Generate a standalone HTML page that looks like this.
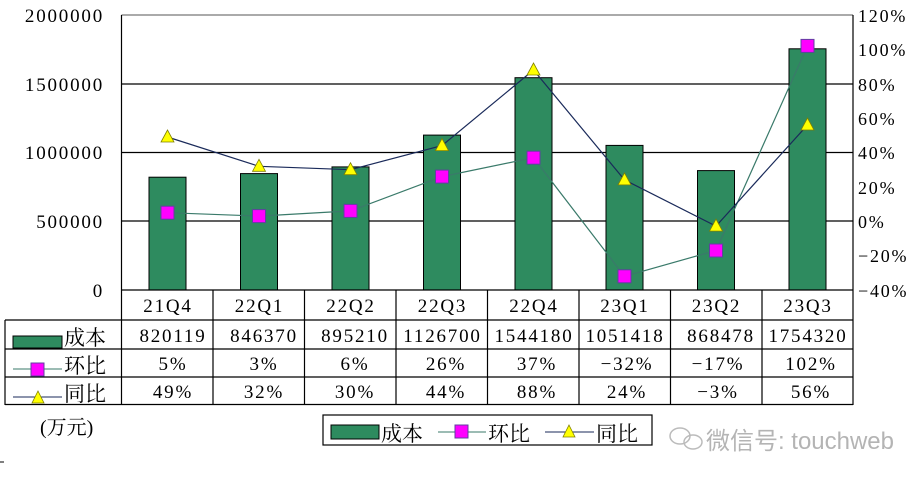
<!DOCTYPE html>
<html><head><meta charset="utf-8"><style>
html,body{margin:0;padding:0;background:#fff;}
svg{display:block;}
text{font-family:"Liberation Serif","Noto Serif CJK SC","Noto Sans CJK SC",serif;fill:#000;}
.n{letter-spacing:1.8px;}
</style></head><body>
<svg width="923" height="480" viewBox="0 0 923 480" xmlns="http://www.w3.org/2000/svg">
<rect width="923" height="480" fill="#fff"/>
<g stroke="#000" stroke-width="1.2">
<line x1="121.5" y1="15" x2="853" y2="15" stroke="#777"/>
<line x1="121.5" y1="84" x2="853" y2="84"/>
<line x1="121.5" y1="152.5" x2="853" y2="152.5"/>
<line x1="121.5" y1="221" x2="853" y2="221"/>
<line x1="121.5" y1="15" x2="121.5" y2="405"/>
<line x1="853" y1="15" x2="853" y2="405"/>
</g>
<g fill="#2e8b5f" stroke="#000" stroke-width="1">
<rect x="149" y="177.2" width="37" height="112.8"/>
<rect x="240.5" y="173.6" width="37" height="116.4"/>
<rect x="332" y="166.9" width="37" height="123.1"/>
<rect x="423.5" y="135.1" width="37" height="154.9"/>
<rect x="515" y="77.7" width="37" height="212.3"/>
<rect x="606" y="145.4" width="37" height="144.6"/>
<rect x="697.5" y="170.6" width="37" height="119.4"/>
<rect x="789" y="48.8" width="37" height="241.2"/>
</g>
<polyline fill="none" stroke="#3a7a6a" stroke-width="1.2" points="167.5,212.7 259,216.1 350.5,210.9 442,176.6 533.5,157.7 624.5,276.3 716,250.5 807.5,45.9"/>
<polyline fill="none" stroke="#1a2a5a" stroke-width="1.2" points="167.5,137 259,166.3 350.5,169.7 442,145.6 533.5,70 624.5,179.9 716,226.1 807.5,125"/>
<g fill="#ff00ff" stroke="#6040a0" stroke-width="1">
<rect x="161" y="206.2" width="13" height="13"/><rect x="252.5" y="209.6" width="13" height="13"/>
<rect x="344" y="204.4" width="13" height="13"/><rect x="435.5" y="170.1" width="13" height="13"/>
<rect x="527" y="151.2" width="13" height="13"/><rect x="618" y="269.8" width="13" height="13"/>
<rect x="709.5" y="244" width="13" height="13"/><rect x="801" y="39.4" width="13" height="13"/>
</g>
<g fill="#ffff00" stroke="#808000" stroke-width="0.8">
<polygon points="167.5,130 174,142 161,142"/><polygon points="259,159.3 265.5,171.3 252.5,171.3"/>
<polygon points="350.5,162.7 357,174.7 344,174.7"/><polygon points="442,138.6 448.5,150.6 435.5,150.6"/>
<polygon points="533.5,63 540,75 527,75"/><polygon points="624.5,172.9 631,184.9 618,184.9"/>
<polygon points="716,219.1 722.5,231.1 709.5,231.1"/><polygon points="807.5,118 814,130 801,130"/>
</g>
<g font-size="19" text-anchor="end" class="n">
<text x="104" y="22">2000000</text><text x="104" y="91">1500000</text>
<text x="104" y="159">1000000</text><text x="104" y="228">500000</text><text x="104" y="297">0</text>
</g>
<g font-size="18" class="n">
<text x="858" y="22">120%</text><text x="858" y="56">100%</text><text x="858" y="91">80%</text>
<text x="858" y="125">60%</text><text x="858" y="159">40%</text><text x="858" y="194">20%</text>
<text x="858" y="228">0%</text><text x="858" y="262">−20%</text><text x="858" y="297">−40%</text>
</g>
<g stroke="#000" stroke-width="1.2">
<line x1="121.5" y1="290" x2="853" y2="290"/>
<line x1="5" y1="320" x2="853" y2="320"/>
<line x1="5" y1="349" x2="853" y2="349"/>
<line x1="5" y1="377" x2="853" y2="377"/>
<line x1="5" y1="404.5" x2="853" y2="404.5"/>
<line x1="5" y1="320" x2="5" y2="405"/>
<line x1="213" y1="290" x2="213" y2="405"/><line x1="304.5" y1="290" x2="304.5" y2="405"/>
<line x1="396" y1="290" x2="396" y2="405"/><line x1="487.5" y1="290" x2="487.5" y2="405"/>
<line x1="579" y1="290" x2="579" y2="405"/><line x1="670.5" y1="290" x2="670.5" y2="405"/>
<line x1="762" y1="290" x2="762" y2="405"/>
</g>
<g font-size="19" text-anchor="middle" class="n">
<text x="168" y="312">21Q4</text><text x="259.5" y="312">22Q1</text><text x="351" y="312">22Q2</text><text x="442.5" y="312">22Q3</text>
<text x="534" y="312">22Q4</text><text x="625" y="312">23Q1</text><text x="716.5" y="312">23Q2</text><text x="808" y="312">23Q3</text>
<text x="173" y="342">820119</text><text x="264" y="342">846370</text><text x="355" y="342">895210</text><text x="442.5" y="342">1126700</text>
<text x="534" y="342">1544180</text><text x="625" y="342">1051418</text><text x="721" y="342">868478</text><text x="808" y="342">1754320</text>
<text x="173" y="370">5%</text><text x="264" y="370">3%</text><text x="355" y="370">6%</text><text x="446" y="370">26%</text>
<text x="537" y="370">37%</text><text x="627" y="370">−32%</text><text x="718" y="370">−17%</text><text x="811" y="370">102%</text>
<text x="173" y="398">49%</text><text x="264" y="398">32%</text><text x="355" y="398">30%</text><text x="446" y="398">44%</text>
<text x="537" y="398">88%</text><text x="627" y="398">24%</text><text x="718" y="398">−3%</text><text x="811" y="398">56%</text>
</g>
<rect x="13" y="336" width="49" height="12" fill="#2e8b5f" stroke="#000"/>
<text x="64" y="345" font-size="21">成本</text>
<line x1="13" y1="369" x2="62" y2="369" stroke="#3a7a6a"/>
<rect x="31" y="363" width="13" height="13" fill="#ff00ff" stroke="#6040a0"/>
<text x="64" y="373" font-size="21">环比</text>
<line x1="13" y1="397" x2="62" y2="397" stroke="#1a2a5a"/>
<polygon points="38,391 44,403 32,403" fill="#ffff00" stroke="#808000" stroke-width="0.8"/>
<text x="64" y="401" font-size="21">同比</text>
<text x="40" y="434" font-size="20">(万元)</text>
<rect x="323" y="415" width="329" height="30" fill="#fff" stroke="#000" stroke-width="1.2"/>
<rect x="331" y="425" width="48" height="14" fill="#2e8b5f" stroke="#000"/>
<text x="381" y="441" font-size="21">成本</text>
<line x1="438" y1="432" x2="486" y2="432" stroke="#3a7a6a"/>
<rect x="455" y="425" width="13" height="13" fill="#ff00ff" stroke="#6040a0"/>
<text x="488" y="441" font-size="21">环比</text>
<line x1="545" y1="432" x2="594" y2="432" stroke="#1a2a5a"/>
<polygon points="569,425 575,437 563,437" fill="#ffff00" stroke="#808000" stroke-width="0.8"/>
<text x="596" y="441" font-size="21">同比</text>
<g fill="none" stroke="#bbb" stroke-width="1.5"><ellipse cx="680" cy="436" rx="10" ry="8"/><ellipse cx="693" cy="442" rx="9" ry="7"/></g>
<text x="706" y="449" font-size="24" textLength="188" style="fill:#b4b4b4;font-family:'Liberation Sans','Noto Sans CJK SC',sans-serif">微信号: touchweb</text>
<line x1="0" y1="462" x2="4" y2="462" stroke="#000"/>
</svg>
</body></html>
